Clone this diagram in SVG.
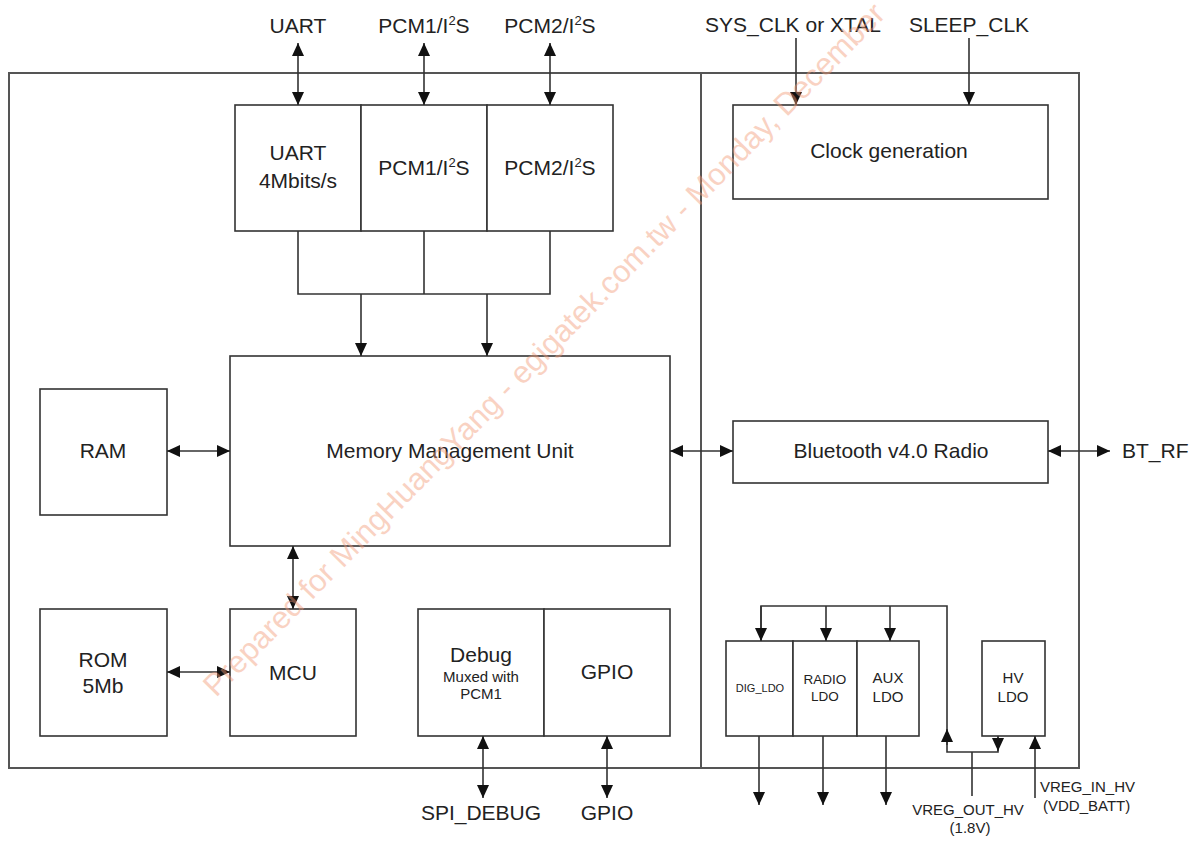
<svg xmlns="http://www.w3.org/2000/svg" width="1198" height="842" viewBox="0 0 1198 842">
  <defs>
    <style>
      .frame { fill: none; stroke: #555; stroke-width: 2; }
      .box { fill: #fff; stroke: #333; stroke-width: 1.6; }
      .wire { fill: none; stroke: #333; stroke-width: 1.6; }
      .t { font-family: "Liberation Sans", Arial, sans-serif; fill: #222; text-anchor: middle; }
      .l { font-size: 21px; }
      .m { font-size: 15px; }
      .s { font-size: 13.5px; }
      .xs { font-size: 11px; }
      .sup { font-size: 13px; }
      .wm { font-family: "Liberation Sans", Arial, sans-serif; font-size: 31px; fill: #f39c7a; opacity: 0.45; }
    </style>
    <marker id="ah" markerUnits="userSpaceOnUse" markerWidth="13" markerHeight="12" refX="13" refY="6" orient="auto-start-reverse">
      <path d="M0,0 L13,6 L0,12 z" fill="#111"/>
    </marker>
  </defs>
  <rect width="1198" height="842" fill="#fff"/>

  <!-- chip outline and digital / radio partition -->
  <g id="chip-frame">
    <rect class="frame" x="9" y="73" width="1070" height="695"/>
    <line class="frame" x1="701" y1="73" x2="701" y2="768"/>
  </g>

  <!-- interface blocks -->
  <g id="uart">
    <rect class="box" x="235" y="105" width="126" height="126"/>
    <text class="t l" x="298" y="160">UART</text>
    <text class="t l" x="298" y="188">4Mbits/s</text>
  </g>
  <g id="pcm1">
    <rect class="box" x="361" y="105" width="126" height="126"/>
    <text class="t l" x="424" y="175">PCM1/I<tspan class="sup" dy="-8">2</tspan><tspan dy="8">S</tspan></text>
  </g>
  <g id="pcm2">
    <rect class="box" x="487" y="105" width="126" height="126"/>
    <text class="t l" x="550" y="175">PCM2/I<tspan class="sup" dy="-8">2</tspan><tspan dy="8">S</tspan></text>
  </g>

  <g id="mmu">
    <rect class="box" x="230" y="356" width="440" height="190"/>
    <text class="t l" x="450" y="458">Memory Management Unit</text>
  </g>
  <g id="ram">
    <rect class="box" x="40" y="389" width="127" height="126"/>
    <text class="t l" x="103" y="458">RAM</text>
  </g>
  <g id="rom">
    <rect class="box" x="40" y="609" width="127" height="127"/>
    <text class="t l" x="103" y="667">ROM</text>
    <text class="t l" x="103" y="693">5Mb</text>
  </g>
  <g id="mcu">
    <rect class="box" x="230" y="609" width="126" height="127"/>
    <text class="t l" x="293" y="680">MCU</text>
  </g>
  <g id="debug">
    <rect class="box" x="418" y="609" width="126" height="127"/>
    <text class="t l" x="481" y="662">Debug</text>
    <text class="t m" x="481" y="682">Muxed with</text>
    <text class="t m" x="481" y="699">PCM1</text>
  </g>
  <g id="gpio">
    <rect class="box" x="544" y="609" width="126" height="127"/>
    <text class="t l" x="607" y="679">GPIO</text>
  </g>

  <!-- radio side -->
  <g id="clock-generation">
    <rect class="box" x="733" y="105" width="315" height="94"/>
    <text class="t l" x="889" y="158">Clock generation</text>
  </g>
  <g id="bt-radio">
    <rect class="box" x="733" y="421" width="315" height="62"/>
    <text class="t l" x="891" y="458">Bluetooth v4.0 Radio</text>
  </g>
  <g id="dig-ldo">
    <rect class="box" x="726" y="641" width="67" height="95"/>
    <text class="t xs" x="760" y="692">DIG_LDO</text>
  </g>
  <g id="radio-ldo">
    <rect class="box" x="793" y="641" width="64" height="95"/>
    <text class="t s" x="825" y="684">RADIO</text>
    <text class="t s" x="825" y="701">LDO</text>
  </g>
  <g id="aux-ldo">
    <rect class="box" x="857" y="641" width="62" height="95"/>
    <text class="t m" x="888" y="683">AUX</text>
    <text class="t m" x="888" y="702">LDO</text>
  </g>
  <g id="hv-ldo">
    <rect class="box" x="982" y="641" width="63" height="95"/>
    <text class="t m" x="1013" y="683">HV</text>
    <text class="t m" x="1013" y="702">LDO</text>
  </g>

  <!-- pin labels -->
  <g id="pins">
    <text class="t l" x="298" y="33">UART</text>
    <text class="t l" x="424" y="33">PCM1/I<tspan class="sup" dy="-8">2</tspan><tspan dy="8">S</tspan></text>
    <text class="t l" x="550" y="33">PCM2/I<tspan class="sup" dy="-8">2</tspan><tspan dy="8">S</tspan></text>
    <text class="t l" x="793" y="32">SYS_CLK or XTAL</text>
    <text class="t l" x="969" y="32">SLEEP_CLK</text>
    <text class="t l" x="1122" y="458" style="text-anchor:start">BT_RF</text>
    <text class="t l" x="481" y="820">SPI_DEBUG</text>
    <text class="t l" x="607" y="820">GPIO</text>
    <text class="t m" x="968" y="815">VREG_OUT_HV</text>
    <text class="t m" x="970" y="833">(1.8V)</text>
    <text class="t m" x="1040" y="792" style="text-anchor:start">VREG_IN_HV</text>
    <text class="t m" x="1043" y="811" style="text-anchor:start">(VDD_BATT)</text>
  </g>

  <!-- connectors -->
  <g id="connectors">
    <!-- external interface pins -->
    <line class="wire" x1="298" y1="43" x2="298" y2="105" marker-start="url(#ah)" marker-end="url(#ah)"/>
    <line class="wire" x1="424" y1="43" x2="424" y2="105" marker-start="url(#ah)" marker-end="url(#ah)"/>
    <line class="wire" x1="550" y1="43" x2="550" y2="105" marker-start="url(#ah)" marker-end="url(#ah)"/>
    <!-- interface bus into MMU -->
    <path class="wire" d="M298,231 V294 H550 V231 M424,231 V294"/>
    <line class="wire" x1="361" y1="294" x2="361" y2="356" marker-end="url(#ah)"/>
    <line class="wire" x1="487" y1="294" x2="487" y2="356" marker-end="url(#ah)"/>
    <!-- memory paths -->
    <line class="wire" x1="167" y1="451" x2="230" y2="451" marker-start="url(#ah)" marker-end="url(#ah)"/>
    <line class="wire" x1="167" y1="672" x2="230" y2="672" marker-start="url(#ah)" marker-end="url(#ah)"/>
    <line class="wire" x1="293" y1="546" x2="293" y2="609" stroke-width="2.2" marker-start="url(#ah)" marker-end="url(#ah)"/>
    <!-- debug / gpio pins -->
    <line class="wire" x1="483" y1="736" x2="483" y2="798" stroke-width="2" marker-start="url(#ah)" marker-end="url(#ah)"/>
    <line class="wire" x1="607" y1="736" x2="607" y2="798" stroke-width="2" marker-start="url(#ah)" marker-end="url(#ah)"/>
    <!-- MMU to radio -->
    <line class="wire" x1="670" y1="451" x2="733" y2="451" marker-start="url(#ah)" marker-end="url(#ah)"/>
    <line class="wire" x1="1048" y1="451" x2="1110" y2="451" marker-start="url(#ah)" marker-end="url(#ah)"/>
    <!-- clock inputs -->
    <line class="wire" x1="796" y1="38" x2="796" y2="105" marker-end="url(#ah)"/>
    <line class="wire" x1="969" y1="38" x2="969" y2="105" marker-end="url(#ah)"/>
    <!-- LDO supply distribution -->
    <path class="wire" d="M761,641 V606 H947 V752 H998 V736"/>
    <line class="wire" x1="761" y1="606" x2="761" y2="641" marker-end="url(#ah)"/>
    <line class="wire" x1="826" y1="606" x2="826" y2="641" marker-end="url(#ah)"/>
    <line class="wire" x1="890" y1="606" x2="890" y2="641" marker-end="url(#ah)"/>
    <line class="wire" x1="947" y1="745" x2="947" y2="729" marker-end="url(#ah)"/>
    <line class="wire" x1="998" y1="736" x2="998" y2="751" marker-end="url(#ah)"/>
    <line class="wire" x1="972" y1="752" x2="972" y2="796"/>
    <line class="wire" x1="1035" y1="798" x2="1035" y2="736" marker-end="url(#ah)"/>
    <!-- LDO outputs -->
    <line class="wire" x1="759" y1="736" x2="759" y2="805" marker-end="url(#ah)"/>
    <line class="wire" x1="823" y1="736" x2="823" y2="805" marker-end="url(#ah)"/>
    <line class="wire" x1="886" y1="736" x2="886" y2="805" marker-end="url(#ah)"/>
  </g>

  <!-- watermark, drawn over the diagram -->
  <text class="wm" transform="translate(216,698) rotate(-45.5)">Prepared for MingHuangYang - egigatek.com.tw - Monday, December</text>
</svg>
